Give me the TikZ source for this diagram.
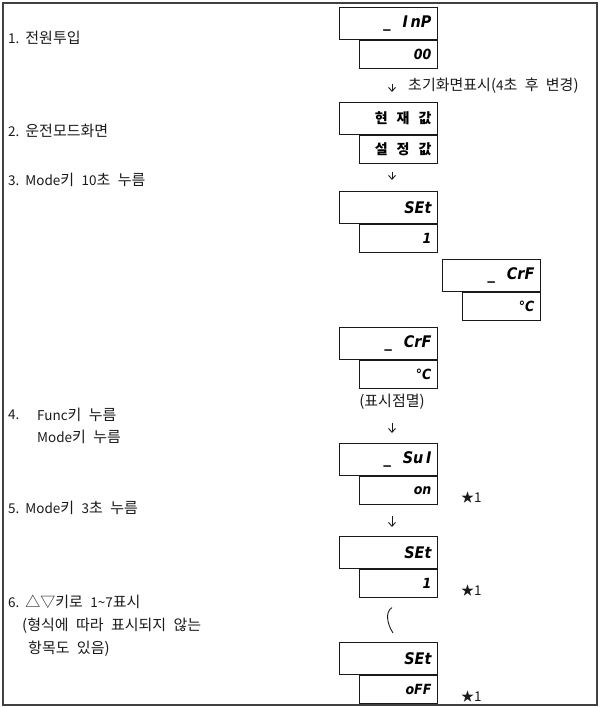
\documentclass[tikz,border=0pt]{standalone}
\usepackage{fontspec}
\setmainfont{Noto Sans CJK KR}[WordSpace=2.2]
\newfontfamily\segfont{DejaVu Sans Condensed}
\newcommand\lt[1]{{\fontsize{13.5}{15}\selectfont#1}}
\usetikzlibrary{arrows.meta,calc,positioning}
\definecolor{Ink}{HTML}{1A1A1A}
\definecolor{Frame}{HTML}{404040}
\tikzset{
  stepflow/.style={-{Straight Barb[length=4pt,width=7pt]},line width=0.9pt,draw=Ink},
  waveline/.style={line width=0.9pt,draw=Ink},
  disphi/.style={rectangle,draw=Ink,line width=0.8pt,minimum height=32pt,text width=86pt,
    inner xsep=6pt,align=right,anchor=north west,
    font=\segfont\bfseries\itshape\fontsize{16}{16}\selectfont},
  displo/.style={rectangle,draw=Ink,line width=0.8pt,minimum height=28pt,text width=66pt,
    inner xsep=6pt,align=right,anchor=north east,
    font=\segfont\bfseries\itshape\fontsize{14}{14}\selectfont},
  hangul/.style={font=\bfseries\fontsize{14}{15}\selectfont},
  steptext/.style={anchor=west,inner sep=0pt,text=Ink,font=\fontsize{15}{17}\selectfont},
  starnote/.style={anchor=south west,inner sep=0pt,xshift=23pt,yshift=1pt,text=Ink,
    font=\fontsize{13}{14}\selectfont},
}

\begin{document}
\begin{tikzpicture}[x=1pt,y=-1pt]
  \useasboundingbox (0,0) rectangle (600,708);
  \draw[Frame,line width=1.2pt] (3,3) rectangle (597,705);
  \coordinate (axis) at (392,0);

  \node[steptext] (step1) at (8,38) {\lt{1.}\hspace{6pt}전원투입};
  \node[steptext] (step2) at (8,131) {\lt{2.}\hspace{6pt}운전모드화면};
  \node[steptext] (step3) at (8,180) {\lt{3.}\hspace{6pt}\lt{Mode}키 \lt{10}초 누름};
  \node[steptext] (step4) at (8,415) {\lt{4.}};
  \node[steptext] (step4a) at (37,415) {\lt{Func}키 누름};
  \node[steptext] (step4b) at (37,437) {\lt{Mode}키 누름};
  \node[steptext] (step5) at (8,508) {\lt{5.}\hspace{6pt}\lt{Mode}키 \lt{3}초 누름};
  \node[steptext] (step6) at (8,602) {\lt{6.}\hspace{6pt}△▽키로 \lt{1\textasciitilde7}표시};
  \node[steptext] (step6a) at (22,626) {(형식에 따라 표시되지 않는};
  \node[steptext] (step6b) at (28,649) {항목도 있음)};

  \node[disphi] (inp) at (339,7) {\_\hspace{12pt}I\,nP};
  \node[displo] (inpval) at (inp.south east) {00};

  \node[disphi,hangul] (pv) at (339,102) {현\hspace{9pt}재\hspace{9pt}값};
  \node[displo,hangul] (sv) at (pv.south east) {설\hspace{9pt}정\hspace{9pt}값};

  \node[disphi] (set1) at (339,191) {SEt};
  \node[displo] (set1val) at (set1.south east) {1};

  \node[disphi] (crfa) at (442,259) {\_\hspace{12pt}CrF};
  \node[displo] (crfaval) at (crfa.south east) {°C};

  \node[disphi] (crfb) at (339,327) {\_\hspace{12pt}CrF};
  \node[displo] (crfbval) at (crfb.south east) {°C};

  \node[disphi] (sui) at (339,443) {\_\hspace{12pt}Su\,I};
  \node[displo] (suival) at (sui.south east) {on};

  \node[disphi] (set2) at (339,536) {SEt};
  \node[displo] (set2val) at (set2.south east) {1};

  \node[disphi] (set3) at (339,642) {SEt};
  \node[displo] (set3val) at (set3.south east) {oFF};

  \node[steptext] (initnote) at (408,86) {초기화면표시(\lt{4}초 후 변경)};
  \node[steptext,anchor=center] (blinknote) at (392,402) {(표시점멸)};

  \node[starnote] (star1) at (suival.south east) {★\lt{1}};
  \node[starnote] (star2) at (set2val.south east) {★\lt{1}};
  \node[starnote] (star3) at (set3val.south east) {★\lt{1}};

  \draw[stepflow,shorten <=15pt,shorten >=10pt] (inpval.south -| axis) -- (pv.north -| axis);
  \draw[stepflow,shorten <=8pt,shorten >=11pt] (sv.south -| axis) -- (set1.north -| axis);
  \draw[stepflow,shorten <=34pt,shorten >=10pt] (crfbval.south -| axis) -- (sui.north -| axis);
  \draw[stepflow,shorten <=11pt,shorten >=9pt] (suival.south -| axis) -- (set2.north -| axis);

  \coordinate (wavetop) at ($(set2val.south -| axis)+(0,10)$);
  \coordinate (wavebot) at ($(set3.north -| axis)+(1,-9)$);
  \draw[waveline] (wavetop) .. controls +(-7,4) and +(-6,-9) .. (wavebot);
\end{tikzpicture}
\end{document}
